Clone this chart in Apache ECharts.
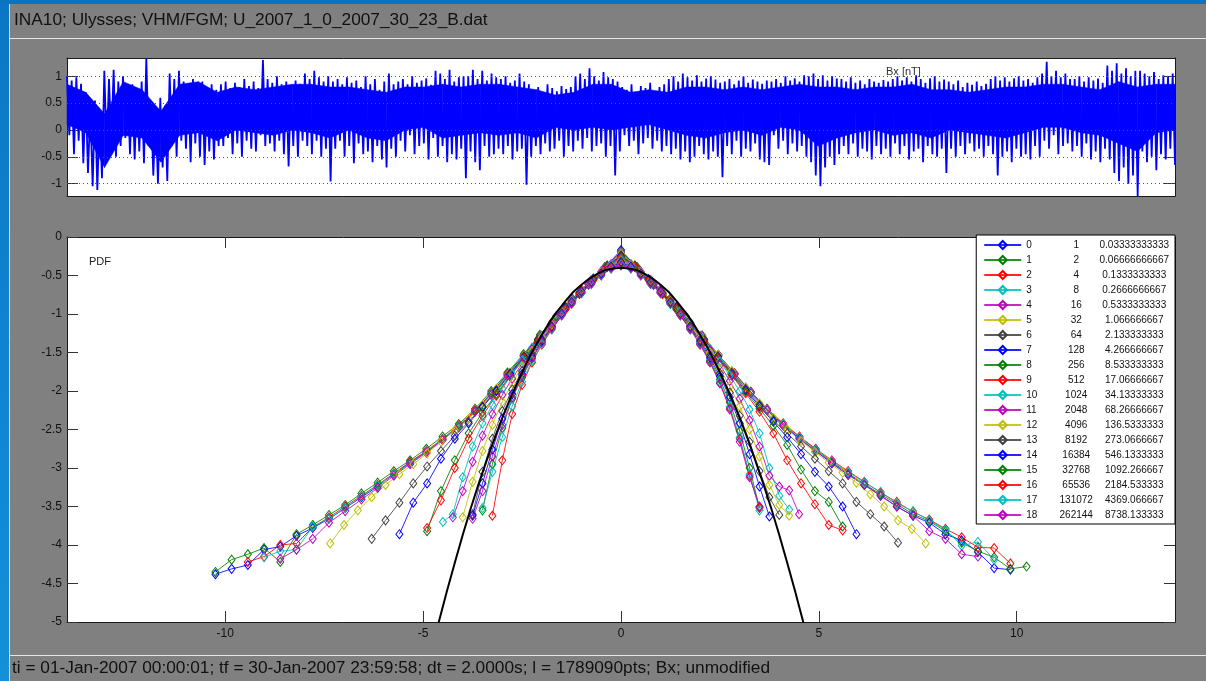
<!DOCTYPE html>
<html>
<head>
<meta charset="utf-8">
<title>INA10 Ulysses Bx PDF</title>
<script src="https://cdn.jsdelivr.net/npm/echarts@6/dist/echarts.min.js"></script>
<style>
  html, body { margin: 0; padding: 0; background: #808080; }
  #chart { width: 1206px; height: 681px; }
</style>
</head>
<body>
<div id="chart"></div>
<script>
// ---- Bx time series (per-column extremes of the 2 s magnetometer record) ----
const bxHigh = [
  1.0, 0.92, 0.98, 0.86,
  0.7, 0.4, 0.55, 0.3,
  1.1, 0.95, 1.12, 0.9, 1.0, 0.85,
  0.85, 0.7, 0.9, 1.34,
  0.5, 0.35, 0.6, 0.45,
  1.05, 0.95, 1.1, 0.9, 0.85, 0.95,
  0.8, 0.9, 0.7, 0.85, 0.75,
  0.85, 0.9, 0.78, 0.88, 0.8, 0.95, 0.82, 0.9, 0.78, 1.3,
  0.95, 0.88, 1.0, 0.85, 0.9, 0.8, 0.92, 0.86,
  1.05, 0.95, 1.1, 0.98, 0.9, 1.0,
  0.9, 0.95, 0.85, 0.98, 0.88, 0.92, 0.8,
  1.0, 0.85, 0.95, 0.75, 0.9, 1.05, 0.85,
  0.9, 0.95, 0.85, 1.0, 0.88, 0.92, 0.96, 0.84,
  1.1, 1.05, 0.95, 1.12, 0.9, 0.98, 1.0,
  1.0, 1.12, 0.95, 1.1, 0.92, 1.05, 0.98,
  0.95, 1.0, 0.88, 0.92, 1.05, 0.9, 0.85,
  0.75, 0.8, 0.7, 0.85, 0.78, 0.72, 0.82, 0.76, 0.8,
  1.0, 1.05, 0.95, 1.15, 1.0, 0.92, 1.08, 0.98, 0.95, 0.9,
  0.8, 0.75, 0.85, 0.7, 0.82, 0.78, 0.88, 0.72, 0.8, 0.85,
  0.95, 1.0, 0.9, 1.05, 0.98, 0.92, 1.02, 0.9, 0.96, 1.0, 0.94, 0.88,
  0.9, 0.95, 0.85, 0.92, 1.0, 0.88, 0.94, 0.9, 0.86, 0.92,
  0.9, 0.95, 0.88, 1.0, 0.92, 0.96, 0.9, 1.02,
  1.0, 1.05, 0.95, 1.02, 0.92, 1.0, 0.96,
  0.95, 0.9, 0.98, 0.88, 0.92, 0.85, 0.95, 0.9, 0.88, 0.93, 0.9,
  0.95, 1.0, 0.92, 0.98, 0.9, 1.02, 0.95, 0.88, 0.96, 1.0, 0.9, 0.94,
  0.9, 0.85, 0.92, 0.8, 0.88, 0.84, 0.9, 0.82, 0.86,
  0.95, 1.0, 0.92, 0.98, 0.9, 0.96, 1.0, 0.92, 0.95, 0.88, 0.98,
  1.05, 1.27, 1.0, 1.1, 0.98, 1.05, 0.95,
  0.95, 1.0, 0.9, 0.98, 0.92, 0.96, 0.88,
  1.2, 1.1, 1.24, 1.05, 1.15, 1.0, 1.1,
  1.1, 1.05, 1.0, 1.08, 0.95, 1.02, 1.0, 1.05
];
const bxLow = [
  -0.1, -0.45, -0.2, -0.62,
  -0.8, -1.05, -1.12, -0.9,
  -0.4, -0.2, -0.5, -0.3, -0.15, -0.45,
  -0.55, -0.4, -0.62, -0.3,
  -0.85, -1.0, -0.7, -0.95,
  -0.3, -0.5, -0.2, -0.35, -0.6, -0.25,
  -0.5, -0.65, -0.4, -0.55, -0.3,
  -0.3, -0.15, -0.45, -0.25, -0.5, -0.2, -0.35, -0.4, -0.1, -0.3,
  -0.25, -0.4, -0.2, -0.45, -0.68, -0.3, -0.5, -0.2,
  -0.3, -0.45, -0.2, -0.5, -0.35, -0.96,
  -0.35, -0.2, -0.5, -0.3, -0.62, -0.25, -0.45,
  -0.4, -0.6, -0.3, -0.55, -0.7, -0.35, -0.5,
  -0.2, -0.4, -0.1, -0.45, -0.3, -0.25, -0.55, -0.15,
  -0.5, -0.3, -0.6, -0.45, -0.55, -0.35, -0.9,
  -0.4, -0.6, -0.75, -0.3, -0.5, -0.45, -0.35,
  -0.45, -0.3, -0.55, -0.4, -0.35, -1.02, -0.5,
  -0.3, -0.45, -0.25, -0.4, -0.35, -0.2, -0.5, -0.3, -0.4,
  -0.2, -0.35, -0.15, -0.4, -0.3, -0.25, -0.5, -0.3, -0.85, -0.4,
  -0.1, -0.3, -0.2, -0.45, -0.25, -0.15, -0.35, -0.2, -0.4, -0.3,
  -0.45, -0.35, -0.55, -0.4, -0.6, -0.5, -0.3, -0.45, -0.55, -0.4, -0.5, -0.88,
  -0.3, -0.45, -0.2, -0.5, -0.35, -0.4, -0.25, -0.55, -0.6, -0.65,
  -0.1, -0.35, -0.2, -0.45, -0.25, -0.4, -0.3, -0.5,
  -0.6, -0.85, -1.05, -0.7, -0.5, -0.65, -0.45,
  -0.3, -0.45, -0.25, -0.5, -0.35, -0.4, -0.55, -0.3, -0.45, -0.35, -0.5,
  -0.25, -0.45, -0.3, -0.55, -0.4, -0.35, -0.6, -0.3, -0.45, -0.5, -0.35, -0.8,
  -0.35, -0.5, -0.3, -0.45, -0.25, -0.4, -0.35, -0.5, -0.3,
  -0.45, -0.85, -0.5, -0.4, -0.6, -0.35, -0.5, -0.45, -0.55, -0.3, -0.5,
  -0.2, -0.35, -0.1, -0.45, -0.3, -0.25, -0.4,
  -0.3, -0.5, -0.25, -0.55, -0.4, -0.6, -0.35,
  -0.55, -0.8, -0.95, -0.7, -1.0, -0.85, -1.23,
  -0.4, -0.6, -0.5, -0.75, -0.45, -0.55, -0.35, -0.65
];
// densest part of the trace: lower / upper edge, 60 samples evenly spread over the record
const bxCoreBottom = [0.1, -0.05, -0.7, -0.1, -0.15, -0.6, -0.1, -0.05, -0.2, 0.0,
                      -0.05, -0.1, 0.0, -0.05, -0.15, 0.0, -0.15, -0.2, 0.0, 0.05,
                      -0.15, -0.1, -0.05, -0.1, -0.05, -0.15, 0.05, 0.0, 0.05, 0.0,
                      0.05, 0.1, 0.0, -0.1, -0.15, -0.05, 0.0, -0.1, 0.05, 0.0,
                      -0.3, -0.15, -0.05, 0.0, -0.1, -0.05, -0.15, 0.0, -0.05, -0.1,
                      -0.15, -0.05, 0.05, 0.05, -0.05, -0.1, -0.25, -0.4, -0.05, 0.0];
const bxCoreTop = [0.85, 0.7, 0.3, 0.9, 0.75, 0.35, 0.85, 0.9, 0.7, 0.8,
                   0.75, 0.8, 0.85, 0.85, 0.8, 0.8, 0.75, 0.7, 0.8, 0.8,
                   0.85, 0.8, 0.85, 0.85, 0.8, 0.75, 0.65, 0.7, 0.85, 0.85,
                   0.7, 0.75, 0.7, 0.8, 0.8, 0.75, 0.8, 0.75, 0.8, 0.85,
                   0.8, 0.8, 0.75, 0.8, 0.8, 0.85, 0.75, 0.75, 0.7, 0.75,
                   0.8, 0.8, 0.85, 0.85, 0.8, 0.75, 0.9, 0.8, 0.85, 0.85];
const bxTicks = [-1, -0.5, 0, 0.5, 1];

// ---- scale table: index, lag in samples, lag in minutes ----
const lagIndex = ['0','1','2','3','4','5','6','7','8','9','10','11','12','13','14','15','16','17','18'];
const lagSamples = ['1','2','4','8','16','32','64','128','256','512','1024','2048','4096','8192','16384','32768','65536','131072','262144'];
const lagMinutes = ['0.03333333333','0.06666666667','0.1333333333','0.2666666667','0.5333333333','1.066666667','2.133333333','4.266666667','8.533333333','17.06666667','34.13333333','68.26666667','136.5333333','273.0666667','546.1333333','1092.266667','2184.533333','4369.066667','8738.133333'];

// ---- histogram bins (first bin centre, bin width) for each scale ----
const binStart = [-10.25, -10.25, -9.43, -9.02, -8.61, -7.35, -6.3, -5.6, -4.9, -4.9, -4.5, -4.25, -4.0, -3.75, -3.75, -3.5, -3.25, -3.5, -3.75];
const binWidth = [0.41, 0.41, 0.41, 0.41, 0.41, 0.35, 0.35, 0.35, 0.35, 0.35, 0.25, 0.25, 0.25, 0.25, 0.25, 0.25, 0.25, 0.25, 0.25];

// ---- log10 PDF of normalised increments, one array per scale ----
const pdf00 = [-4.38,-4.31,-4.26,-4.06,-4.02,-3.88,-3.78,-3.66,-3.52,-3.38,-3.24,-3.08,-2.93,-2.79,-2.63,-2.46,-2.26,-2.03,-1.78,-1.54,-1.29,-1.04,-0.81,-0.61,-0.40,-0.17,-0.40,-0.62,-0.82,-1.05,-1.29,-1.54,-1.78,-2.02,-2.24,-2.44,-2.62,-2.78,-2.94,-3.09,-3.22,-3.36,-3.50,-3.62,-3.71,-3.86,-3.94,-4.09,-4.30,-4.32];
const pdf01 = [-4.35,-4.19,-4.12,-4.04,-4.22,-3.86,-3.74,-3.61,-3.48,-3.33,-3.19,-3.04,-2.90,-2.75,-2.59,-2.43,-2.23,-2.00,-1.76,-1.52,-1.27,-1.03,-0.80,-0.60,-0.39,-0.19,-0.39,-0.60,-0.81,-1.03,-1.28,-1.53,-1.77,-2.01,-2.24,-2.43,-2.60,-2.76,-2.92,-3.07,-3.21,-3.34,-3.47,-3.60,-3.69,-3.82,-3.97,-4.08,-4.16,-4.31,-4.28];
const pdf02 = [-4.22,-4.15,-4.00,-3.98,-3.77,-3.64,-3.50,-3.36,-3.22,-3.07,-2.92,-2.78,-2.62,-2.45,-2.25,-2.03,-1.78,-1.54,-1.29,-1.05,-0.82,-0.61,-0.40,-0.20,-0.40,-0.61,-0.82,-1.04,-1.28,-1.53,-1.77,-2.01,-2.23,-2.42,-2.59,-2.75,-2.90,-3.04,-3.18,-3.32,-3.44,-3.57,-3.67,-3.79,-3.90,-4.03,-4.04,-4.24];
const pdf03 = [-4.16,-4.08,-4.06,-3.76,-3.66,-3.52,-3.37,-3.23,-3.08,-2.94,-2.79,-2.63,-2.46,-2.27,-2.04,-1.79,-1.55,-1.30,-1.05,-0.82,-0.61,-0.40,-0.21,-0.41,-0.62,-0.83,-1.05,-1.29,-1.54,-1.78,-2.02,-2.24,-2.43,-2.60,-2.76,-2.91,-3.05,-3.19,-3.31,-3.46,-3.56,-3.68,-3.80,-4.01,-3.96,-4.19];
const pdf04 = [-4.18,-4.06,-3.92,-3.71,-3.56,-3.41,-3.26,-3.10,-2.95,-2.80,-2.64,-2.47,-2.27,-2.05,-1.80,-1.56,-1.31,-1.06,-0.83,-0.62,-0.41,-0.22,-0.41,-0.62,-0.83,-1.06,-1.30,-1.55,-1.79,-2.03,-2.25,-2.45,-2.62,-2.78,-2.93,-3.08,-3.22,-3.36,-3.50,-3.62,-3.82,-3.92,-4.12,-4.15];
const pdf05 = [-3.98,-3.74,-3.55,-3.38,-3.22,-3.08,-2.95,-2.81,-2.66,-2.51,-2.36,-2.18,-1.97,-1.76,-1.54,-1.33,-1.11,-0.90,-0.72,-0.54,-0.37,-0.22,-0.37,-0.55,-0.72,-0.90,-1.11,-1.32,-1.53,-1.74,-1.95,-2.16,-2.35,-2.50,-2.65,-2.79,-2.93,-3.06,-3.19,-3.34,-3.50,-3.68,-3.79,-3.98];
const pdf06 = [-3.92,-3.68,-3.45,-3.20,-2.98,-2.78,-2.58,-2.40,-2.20,-1.99,-1.77,-1.55,-1.33,-1.12,-0.91,-0.72,-0.54,-0.37,-0.24,-0.37,-0.55,-0.73,-0.91,-1.12,-1.33,-1.55,-1.76,-1.97,-2.18,-2.38,-2.55,-2.72,-2.88,-3.04,-3.20,-3.44,-3.60,-3.76,-3.97];
const pdf07 = [-3.86,-3.45,-3.20,-2.88,-2.62,-2.42,-2.21,-2.00,-1.78,-1.56,-1.34,-1.13,-0.92,-0.73,-0.55,-0.38,-0.25,-0.38,-0.55,-0.73,-0.92,-1.13,-1.34,-1.56,-1.78,-1.99,-2.20,-2.40,-2.60,-2.82,-3.05,-3.24,-3.50,-3.86];
const pdf08 = [-3.82,-3.30,-2.90,-2.55,-2.28,-2.04,-1.80,-1.57,-1.35,-1.14,-0.93,-0.74,-0.56,-0.38,-0.26,-0.38,-0.56,-0.74,-0.93,-1.14,-1.35,-1.57,-1.79,-2.01,-2.23,-2.45,-2.70,-3.02,-3.30,-3.44,-3.76];
const pdf09 = [-3.78,-3.42,-3.00,-2.62,-2.32,-2.06,-1.81,-1.58,-1.36,-1.15,-0.94,-0.74,-0.56,-0.39,-0.27,-0.39,-0.56,-0.74,-0.94,-1.15,-1.36,-1.58,-1.80,-2.03,-2.27,-2.55,-2.90,-3.20,-3.47,-3.74,-3.81];
const pdf10 = [-3.70,-3.60,-3.12,-2.72,-2.42,-2.18,-1.97,-1.78,-1.60,-1.44,-1.28,-1.12,-0.96,-0.82,-0.68,-0.56,-0.45,-0.35,-0.29,-0.35,-0.45,-0.56,-0.68,-0.82,-0.96,-1.12,-1.28,-1.45,-1.62,-1.80,-2.00,-2.24,-2.55,-3.00,-3.36,-3.54];
const pdf11 = [-3.64,-3.30,-2.92,-2.58,-2.30,-2.05,-1.84,-1.64,-1.46,-1.29,-1.13,-0.97,-0.82,-0.68,-0.56,-0.45,-0.36,-0.30,-0.36,-0.45,-0.56,-0.68,-0.82,-0.97,-1.13,-1.30,-1.47,-1.66,-1.87,-2.10,-2.38,-2.72,-3.10,-3.24,-3.29,-3.60];
const pdf12 = [-3.64,-3.18,-2.78,-2.44,-2.14,-1.90,-1.68,-1.48,-1.30,-1.14,-0.98,-0.83,-0.69,-0.57,-0.46,-0.37,-0.31,-0.37,-0.46,-0.57,-0.69,-0.83,-0.98,-1.14,-1.31,-1.50,-1.71,-1.94,-2.20,-2.50,-2.85,-3.22,-3.48,-3.62];
const pdf13 = [-3.60,-3.05,-2.62,-2.26,-1.98,-1.74,-1.52,-1.33,-1.16,-0.99,-0.84,-0.70,-0.58,-0.47,-0.38,-0.32,-0.38,-0.47,-0.58,-0.70,-0.84,-0.99,-1.16,-1.34,-1.54,-1.77,-2.02,-2.32,-2.66,-3.04,-3.38,-3.61];
const pdf14 = [-3.62,-3.20,-2.76,-2.36,-2.04,-1.78,-1.55,-1.35,-1.17,-1.00,-0.85,-0.71,-0.59,-0.48,-0.39,-0.33,-0.39,-0.48,-0.59,-0.71,-0.85,-1.00,-1.17,-1.36,-1.57,-1.81,-2.08,-2.42,-2.82,-3.24,-3.63];
const pdf15 = [-3.55,-2.95,-2.48,-2.10,-1.82,-1.58,-1.37,-1.18,-1.01,-0.86,-0.72,-0.60,-0.49,-0.40,-0.34,-0.40,-0.49,-0.60,-0.72,-0.86,-1.01,-1.18,-1.38,-1.60,-1.85,-2.15,-2.52,-3.00,-3.52];
const pdf16 = [-3.62,-2.90,-2.30,-1.92,-1.63,-1.40,-1.20,-1.02,-0.87,-0.73,-0.61,-0.50,-0.41,-0.35,-0.41,-0.50,-0.61,-0.73,-0.87,-1.02,-1.20,-1.40,-1.63,-1.90,-2.22,-2.62,-3.10,-3.51];
const pdf17 = [-3.52,-3.05,-2.60,-2.20,-1.88,-1.61,-1.39,-1.19,-1.02,-0.87,-0.73,-0.61,-0.50,-0.41,-0.36,-0.41,-0.50,-0.61,-0.73,-0.87,-1.02,-1.20,-1.39,-1.62,-1.88,-2.20,-2.60,-3.08,-3.55];
const pdf18 = [-3.66,-3.30,-2.85,-2.44,-2.08,-1.80,-1.57,-1.37,-1.18,-1.01,-0.86,-0.72,-0.60,-0.49,-0.40,-0.37,-0.40,-0.49,-0.60,-0.72,-0.86,-1.01,-1.19,-1.39,-1.62,-1.90,-2.24,-2.66,-3.12,-3.50];
const logPdf = [pdf00, pdf01, pdf02, pdf03, pdf04, pdf05, pdf06, pdf07, pdf08, pdf09,
                pdf10, pdf11, pdf12, pdf13, pdf14, pdf15, pdf16, pdf17, pdf18];

// ---- reference normal distribution (log10), sampled every 0.2 from -4.8 ----
const gaussStart = -4.8;
const gaussStep = 0.2;
const gaussLog = [-5.40,-4.99,-4.60,-4.23,-3.87,-3.53,-3.21,-2.91,-2.62,-2.35,-2.10,-1.87,-1.65,-1.45,-1.27,-1.10,-0.96,-0.83,-0.71,-0.62,-0.54,-0.48,-0.43,-0.41,-0.40,
                  -0.41,-0.43,-0.48,-0.54,-0.62,-0.71,-0.83,-0.96,-1.10,-1.27,-1.45,-1.65,-1.87,-2.10,-2.35,-2.62,-2.91,-3.21,-3.53,-3.87,-4.23,-4.60,-4.99,-5.40];

const pdfTicksX = [-10, -5, 0, 5, 10];

// ---- drawing ----
const FONT = '"Liberation Sans", Arial, Helvetica, sans-serif';
const LINE_COLORS = ['#0000ff', '#008000', '#ff0000', '#00bfbf', '#bf00bf', '#bfbf00', '#404040'];
const AX = '#1a1a1a';
const LBL = '#111111';
const GRID_TOP = { left: 67, top: 58, width: 1108, height: 138 };
const GRID_PDF = { left: 67, top: 237, width: 1108, height: 385 };

const chart = echarts.init(document.getElementById('chart'), null, { renderer: 'canvas' });

// interleave column maxima and minima so the trace sweeps each column
const bxTrace = [];
for (let i = 0; i < bxHigh.length; i++) {
  bxTrace.push([2 * i, bxHigh[i]]);
  bxTrace.push([2 * i + 1, bxLow[i]]);
}
const bxLast = bxTrace.length - 1;
const coreStep = bxLast / (bxCoreTop.length - 1);
const coreData = bxCoreTop.map((t, i) => [i * coreStep, bxCoreBottom[i], t]);

const pdfSeries = logPdf.map((ys, k) => {
  const color = LINE_COLORS[k % LINE_COLORS.length];
  return {
    name: lagIndex[k],
    type: 'line',
    xAxisIndex: 2,
    yAxisIndex: 2,
    data: ys.map((y, i) => [binStart[k] + i * binWidth[k], y]),
    symbol: 'diamond',
    symbolSize: [7, 9],
    showAllSymbol: true,
    itemStyle: { color: 'rgba(255,255,255,0)', borderColor: color, borderWidth: 1 },
    lineStyle: { color: color, width: 1, opacity: 0.85 },
    emphasis: { disabled: true },
    z: 3,
    clip: true
  };
});

const option = {
  animation: false,
  backgroundColor: '#808080',
  textStyle: { fontFamily: FONT },
  grid: [
    Object.assign({ containLabel: false }, GRID_TOP),
    Object.assign({ containLabel: false }, GRID_PDF)
  ],
  xAxis: [
    { gridIndex: 0, type: 'value', position: 'bottom', min: 0, max: bxLast,
      axisLine: { show: true, onZero: false, lineStyle: { color: AX } },
      axisTick: { show: false }, axisLabel: { show: false }, splitLine: { show: false } },
    { gridIndex: 0, type: 'value', position: 'top', min: 0, max: bxLast,
      axisLine: { show: true, onZero: false, lineStyle: { color: AX } },
      axisTick: { show: false }, axisLabel: { show: false }, splitLine: { show: false } },
    { gridIndex: 1, type: 'value', position: 'bottom', min: -14, max: 14,
      axisLine: { show: true, onZero: false, lineStyle: { color: AX } },
      axisTick: { show: true, inside: true, length: 11, customValues: pdfTicksX, lineStyle: { color: '#333' } },
      axisLabel: { customValues: pdfTicksX, margin: 6, fontSize: 12, color: LBL, fontFamily: FONT },
      splitLine: { show: false } },
    { gridIndex: 1, type: 'value', position: 'top', min: -14, max: 14,
      axisLine: { show: true, onZero: false, lineStyle: { color: AX } },
      axisTick: { show: true, inside: true, length: 11, customValues: pdfTicksX, lineStyle: { color: '#333' } },
      axisLabel: { show: false }, splitLine: { show: false } }
  ],
  yAxis: [
    { gridIndex: 0, type: 'value', position: 'left', min: -1.23, max: 1.34,
      axisLine: { show: true, onZero: false, lineStyle: { color: AX } },
      axisTick: { show: true, inside: true, length: 11, customValues: bxTicks, lineStyle: { color: '#333' } },
      axisLabel: { customValues: bxTicks, margin: 5, fontSize: 12, color: LBL, fontFamily: FONT },
      splitLine: { show: false } },
    { gridIndex: 0, type: 'value', position: 'right', min: -1.23, max: 1.34,
      axisLine: { show: true, onZero: false, lineStyle: { color: AX } },
      axisTick: { show: true, inside: true, length: 11, customValues: bxTicks, lineStyle: { color: '#333' } },
      axisLabel: { show: false }, splitLine: { show: false } },
    { gridIndex: 1, type: 'value', position: 'left', min: -5, max: 0, interval: 0.5,
      axisLine: { show: true, onZero: false, lineStyle: { color: AX } },
      axisTick: { show: true, inside: true, length: 11, lineStyle: { color: '#333' } },
      axisLabel: { margin: 5, fontSize: 12, color: LBL, fontFamily: FONT },
      splitLine: { show: false } },
    { gridIndex: 1, type: 'value', position: 'right', min: -5, max: 0, interval: 0.5,
      axisLine: { show: true, onZero: false, lineStyle: { color: AX } },
      axisTick: { show: true, inside: true, length: 11, lineStyle: { color: '#333' } },
      axisLabel: { show: false }, splitLine: { show: false } }
  ],
  legend: {
    data: lagIndex,
    orient: 'vertical',
    right: 31,
    top: 235,
    selectedMode: false,
    backgroundColor: '#ffffff',
    borderColor: '#000000',
    borderWidth: 1,
    borderRadius: 0,
    padding: [5, 6, 4, 7],
    itemWidth: 37,
    itemHeight: 10,
    itemGap: 5,
    textStyle: {
      fontFamily: FONT, fontSize: 10, color: LBL, lineHeight: 10,
      rich: {
        a: { width: 22, align: 'left', fontSize: 10, lineHeight: 10, fontFamily: FONT, color: LBL },
        b: { width: 56, align: 'center', fontSize: 10, lineHeight: 10, fontFamily: FONT, color: LBL },
        c: { width: 60, align: 'center', fontSize: 10, lineHeight: 10, fontFamily: FONT, color: LBL }
      }
    },
    formatter: function (name) {
      const k = lagIndex.indexOf(name);
      return '{a|' + lagIndex[k] + '}{b|' + lagSamples[k] + '}{c|' + lagMinutes[k] + '}';
    }
  },
  graphic: [
    // white plot areas
    { type: 'rect', left: GRID_TOP.left, top: GRID_TOP.top, z: -1, silent: true,
      shape: { width: GRID_TOP.width, height: GRID_TOP.height }, style: { fill: '#ffffff' } },
    { type: 'rect', left: GRID_PDF.left, top: GRID_PDF.top, z: -1, silent: true,
      shape: { width: GRID_PDF.width, height: GRID_PDF.height }, style: { fill: '#ffffff' } },
    { type: 'rect', left: 0, top: 0, z: 100, silent: true,
      shape: { width: 9, height: 681 },
      style: { fill: new echarts.graphic.LinearGradient(0, 0, 0, 1, [
        { offset: 0, color: '#0b77c4' }, { offset: 0.6, color: '#0f86d2' }, { offset: 1, color: '#1390d8' }]) } },
    { type: 'rect', left: 0, top: 0, z: 100, silent: true,
      shape: { width: 1206, height: 4 }, style: { fill: '#0a74c0' } },
    { type: 'line', z: 100, silent: true, shape: { x1: 9.5, y1: 4, x2: 9.5, y2: 681 },
      style: { stroke: '#d8d8d8', lineWidth: 1 } },
    { type: 'line', z: 100, silent: true, shape: { x1: 10, y1: 38.5, x2: 1206, y2: 38.5 },
      style: { stroke: '#e6e6e6', lineWidth: 1 } },
    { type: 'line', z: 100, silent: true, shape: { x1: 10, y1: 655.5, x2: 1206, y2: 655.5 },
      style: { stroke: '#e6e6e6', lineWidth: 1 } },
    { type: 'text', left: 14, top: 12, z: 100, silent: true,
      style: { text: 'INA10; Ulysses; VHM/FGM; U_2007_1_0_2007_30_23_B.dat',
               font: '17.3px ' + FONT, fill: '#101010' } },
    { type: 'text', left: 12, top: 660, z: 100, silent: true,
      style: { text: 'ti = 01-Jan-2007 00:00:01; tf = 30-Jan-2007 23:59:58; dt = 2.0000s; l = 1789090pts; Bx; unmodified',
               font: '17.3px ' + FONT, fill: '#101010' } },
    { type: 'text', left: 886, top: 66, z: 100, silent: true,
      style: { text: 'Bx [nT]', font: '11px ' + FONT, fill: '#333333' } },
    { type: 'text', left: 89, top: 256, z: 100, silent: true,
      style: { text: 'PDF', font: '11px ' + FONT, fill: '#222222' } }
  ],
  series: [
    // dotted reference levels behind the trace
    { type: 'line', xAxisIndex: 0, yAxisIndex: 0, data: [], z: 1, silent: true,
      markLine: { silent: true, symbol: 'none', label: { show: false },
        lineStyle: { color: '#555555', type: [1, 3], width: 1 },
        data: bxTicks.map(v => ({ yAxis: v })) } },
    // dense core of the trace, filled between its lower and upper edge
    { type: 'custom', xAxisIndex: 0, yAxisIndex: 0, data: coreData, z: 2, silent: true,
      renderItem: function (params, api) {
        const i = params.dataIndex;
        if (i >= coreData.length - 1) return null;
        const a = coreData[i], b = coreData[i + 1];
        const pts = [api.coord([a[0], a[1]]), api.coord([a[0], a[2]]),
                     api.coord([b[0], b[2]]), api.coord([b[0], b[1]])];
        return { type: 'polygon', shape: { points: pts }, style: { fill: '#0000ff', stroke: '#0000ff', lineWidth: 0.5 } };
      } },
    { name: 'Bx', type: 'line', xAxisIndex: 0, yAxisIndex: 0, data: bxTrace,
      showSymbol: false, symbol: 'none', sampling: false,
      lineStyle: { color: '#0000ff', width: 1.8 }, z: 2, clip: true, emphasis: { disabled: true } },
    ...pdfSeries,
    { name: 'normal', type: 'line', xAxisIndex: 2, yAxisIndex: 2,
      data: gaussLog.map((y, i) => [gaussStart + i * gaussStep, y]),
      showSymbol: false, symbol: 'none', smooth: false,
      lineStyle: { color: '#000000', width: 2 }, z: 5, clip: true, emphasis: { disabled: true } }
  ]
};

chart.setOption(option);
</script>
</body>
</html>
